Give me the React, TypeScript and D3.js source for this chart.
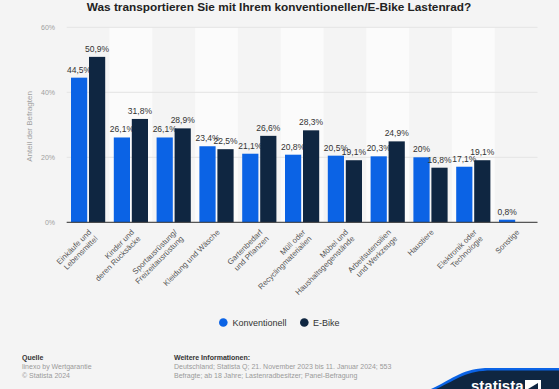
import React from "react";
import * as d3 from "d3";

const categories = [
  "Einkäufe und\nLebensmittel",
  "Kinder und\nderen Rucksäcke",
  "Sportausrüstung/\nFreizeitausrüstung",
  "Kleidung und Wäsche",
  "Gartenbedarf\nund Pflanzen",
  "Müll oder\nRecyclingmaterialien",
  "Möbel und\nHaushaltsgegenstände",
  "Arbeitsutensilien\nund Werkzeuge",
  "Haustiere",
  "Elektronik oder\nTechnologie",
  "Sonstige",
];
const konventionell = [44.5, 26.1, 26.1, 23.4, 21.1, 20.8, 20.5, 20.3, 20, 17.1, 0.8];
const eBike: (number | null)[] = [50.9, 31.8, 28.9, 22.5, 26.6, 28.3, 19.1, 24.9, 16.8, 19.1, null];
const seriesNames = ["Konventionell", "E-Bike"];
const yTicks = [0, 20, 40, 60];

const W = 559;
const H = 389;
const FONT = "'Liberation Sans', Arial, sans-serif";
const BLUE = "#0b63e5";
const NAVY = "#0f2641";

const fmt = (v: number) => String(v).replace(".", ",") + "%";

export default function App() {
  const x = d3.scaleBand<string>().domain(categories).range([66.7, 537.5]);
  const sub = d3.scaleBand<string>().domain(seriesNames).range([4.3, 38.5]).paddingInner(0.1);
  const y = d3.scaleLinear().domain([0, 60]).range([222.3, 27.3]);
  const colors = d3.scaleOrdinal<string, string>().domain(seriesNames).range([BLUE, NAVY]);
  const series = [konventionell, eBike];

  return (
    <svg
      width={W}
      height={H}
      style={{ position: "fixed", left: 0, top: 0, background: "#f4f4f4" }}
      fontFamily={FONT}
    >
      <rect width={W} height={H} fill="#f4f4f4" />
      {/* alternating column bands */}
      {categories.map((c, i) =>
        i % 2 === 1 ? (
          <rect key={"b" + i} x={x(c)} y={y(60)} width={x.bandwidth()} height={y(0) - y(60)} fill="#fbfbfb" />
        ) : null
      )}
      {/* gridlines */}
      {yTicks.map((t) => (
        <line key={"g" + t} x1={66.7} x2={537.5} y1={y(t)} y2={y(t)} stroke="#e4e4e4" strokeWidth={1} />
      ))}
      {yTicks.map((t) => (
        <text key={"t" + t} x={55} y={y(t) + 2.5} textAnchor="end" fontSize={7} fill="#a0a0a0">
          {t + "%"}
        </text>
      ))}
      <text
        transform={`translate(32,${y(29.5)}) rotate(-90)`}
        textAnchor="middle"
        fontSize={8}
        fill="#a0a0a0"
      >
        Anteil der Befragten
      </text>

      {/* bars */}
      {series.map((vals, s) =>
        vals.map((v, i) => {
          if (v == null) return null;
          const bx = (x(categories[i]) as number) + (sub(seriesNames[s]) as number);
          return (
            <g key={`r${s}-${i}`}>
              <rect
                x={bx}
                y={y(v)}
                width={sub.bandwidth()}
                height={y(0) - y(v)}
                fill={colors(seriesNames[s])}
              />
              <text
                x={bx + sub.bandwidth() / 2}
                y={y(v) - 5}
                textAnchor="middle"
                fontSize={8.5}
                fill="#333"
              >
                {fmt(v)}
              </text>
            </g>
          );
        })
      )}
      <line x1={66.7} x2={537.5} y1={y(0)} y2={y(0)} stroke="#333" strokeWidth={1} />

      {/* x labels */}
      {categories.map((c, i) => {
        const cx = (x(c) as number) + x.bandwidth() / 2 + 1;
        const cy = 230;
        return (
          <text
            key={"x" + i}
            transform={`translate(${cx},${cy}) rotate(-45)`}
            textAnchor="end"
            fontSize={7.8}
            fill="#555"
          >
            {c.split("\n").map((line, j) => (
              <tspan key={j} x={0} dy={j === 0 ? "0.5em" : "1.15em"}>
                {line}
              </tspan>
            ))}
          </text>
        );
      })}

      {/* title */}
      <text x={279} y={11} textAnchor="middle" fontSize={11.8} fontWeight="bold" fill="#222">
        Was transportieren Sie mit Ihrem konventionellen/E-Bike Lastenrad?
      </text>

      {/* legend */}
      <circle cx={223.3} cy={322.5} r={4.3} fill={BLUE} />
      <text x={232.5} y={325.8} fontSize={9} fill="#333">
        Konventionell
      </text>
      <circle cx={304.3} cy={322.5} r={4.3} fill={NAVY} />
      <text x={313} y={325.8} fontSize={9} fill="#333">
        E-Bike
      </text>

      {/* footer */}
      <text x={22} y={360} fontSize={7} fontWeight="bold" fill="#333">Quelle</text>
      <text x={22} y={369} fontSize={7} fill="#9a9a9a">linexo by Wertgarantie</text>
      <text x={22} y={378} fontSize={7} fill="#9a9a9a">© Statista 2024</text>
      <text x={174} y={360} fontSize={7} fontWeight="bold" fill="#333">Weitere Informationen:</text>
      <text x={174} y={369} fontSize={7} fill="#9a9a9a">
        Deutschland; Statista Q; 21. November 2023 bis 11. Januar 2024; 553
      </text>
      <text x={174} y={378} fontSize={7} fill="#9a9a9a">
        Befragte; ab 18 Jahre; Lastenradbesitzer; Panel-Befragung
      </text>

      {/* logo */}
      <path d="M431,389 C455,378 462,368 490,368 L559,368 L559,389 Z" fill={BLUE} />
      <path d="M436,389 C458,379 466,370.5 492,370.5 L559,370.5 L559,389 Z" fill={NAVY} />
      <text x={471} y={391} fontSize={15} fontWeight="bold" fill="#fff">statista</text>
      <path d="M525,380 L541,380 L541,389 L525,389 Z M528,389 L538,383 L538,389 Z" fill="#fff" fillRule="evenodd" />
    </svg>
  );
}
